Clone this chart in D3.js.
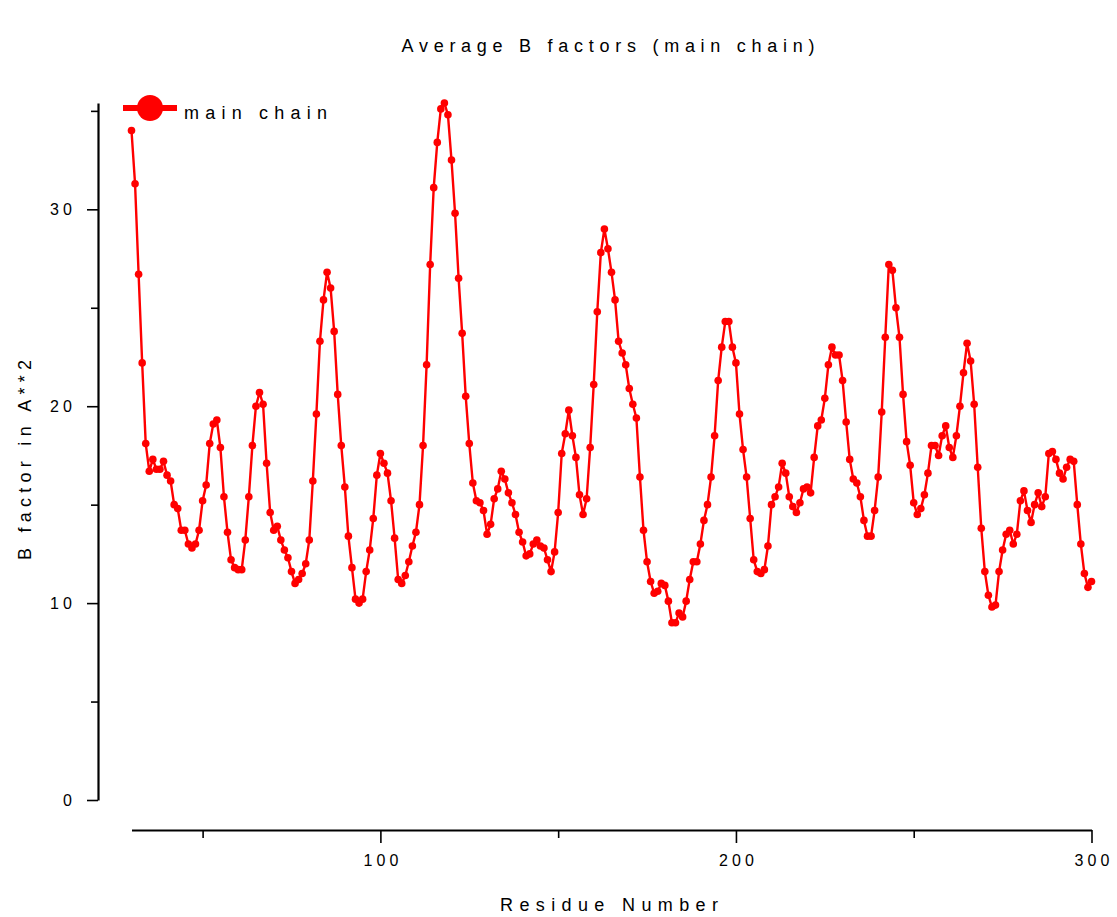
<!DOCTYPE html>
<html>
<head>
<meta charset="utf-8">
<script src="https://cdn.jsdelivr.net/npm/d3@7"></script>
<style>
  html, body { margin: 0; padding: 0; background: #fff; }
  svg text { font-family: "Liberation Sans", Arial, sans-serif; fill: #000; }
</style>
</head>
<body>
<svg id="chart" width="1117" height="917"></svg>
<script>
// Residue numbering of the first value; each following value is the next residue.
const firstResidue = 30;

// Average main-chain B factor per residue (A**2).
const bFactors = [
  34.0, 31.3, 26.7, 22.2, 18.1, 16.7, 17.3, 16.8, 16.8, 17.2,
  16.5, 16.2, 15.0, 14.8, 13.7, 13.7, 13.0, 12.8, 13.0, 13.7,
  15.2, 16.0, 18.1, 19.1, 19.3, 17.9, 15.4, 13.6, 12.2, 11.8,
  11.7, 11.7, 13.2, 15.4, 18.0, 20.0, 20.7, 20.1, 17.1, 14.6,
  13.7, 13.9, 13.2, 12.7, 12.3, 11.6, 11.0, 11.2, 11.5, 12.0,
  13.2, 16.2, 19.6, 23.3, 25.4, 26.8, 26.0, 23.8, 20.6, 18.0,
  15.9, 13.4, 11.8, 10.2, 10.0, 10.2, 11.6, 12.7, 14.3, 16.5,
  17.6, 17.1, 16.6, 15.2, 13.3, 11.2, 11.0, 11.4, 12.1, 12.9,
  13.6, 15.0, 18.0, 22.1, 27.2, 31.1, 33.4, 35.1, 35.4, 34.8,
  32.5, 29.8, 26.5, 23.7, 20.5, 18.1, 16.1, 15.2, 15.1, 14.7,
  13.5, 14.0, 15.3, 15.8, 16.7, 16.3, 15.6, 15.1, 14.5, 13.6,
  13.1, 12.4, 12.5, 13.0, 13.2, 12.9, 12.8, 12.2, 11.6, 12.6,
  14.6, 17.6, 18.6, 19.8, 18.5, 17.4, 15.5, 14.5, 15.3, 17.9,
  21.1, 24.8, 27.8, 29.0, 28.0, 26.8, 25.4, 23.3, 22.7, 22.1,
  20.9, 20.1, 19.4, 16.4, 13.7, 12.1, 11.1, 10.5, 10.6, 11.0,
  10.9, 10.1, 9.0, 9.0, 9.5, 9.3, 10.1, 11.2, 12.1, 12.1,
  13.0, 14.2, 15.0, 16.4, 18.5, 21.3, 23.0, 24.3, 24.3, 23.0,
  22.2, 19.6, 17.8, 16.4, 14.3, 12.2, 11.6, 11.5, 11.7, 12.9,
  15.0, 15.4, 15.9, 17.1, 16.6, 15.4, 14.9, 14.6, 15.1, 15.8,
  15.9, 15.6, 17.4, 19.0, 19.3, 20.4, 22.1, 23.0, 22.6, 22.6,
  21.3, 19.2, 17.3, 16.3, 16.1, 15.4, 14.2, 13.4, 13.4, 14.7,
  16.4, 19.7, 23.5, 27.2, 26.9, 25.0, 23.5, 20.6, 18.2, 17.0,
  15.1, 14.5, 14.8, 15.5, 16.6, 18.0, 18.0, 17.5, 18.5, 19.0,
  17.9, 17.4, 18.5, 20.0, 21.7, 23.2, 22.3, 20.1, 16.9, 13.8,
  11.6, 10.4, 9.8, 9.9, 11.6, 12.7, 13.5, 13.7, 13.0, 13.5,
  15.2, 15.7, 14.7, 14.1, 15.0, 15.6, 14.9, 15.4, 17.6, 17.7,
  17.3, 16.6, 16.3, 16.9, 17.3, 17.2, 15.0, 13.0, 11.5, 10.8,
  11.1
];

// Axis ticks: labelled majors and unlabelled minors.
const xMajorTicks = [100, 200, 300];
const xMinorTicks = [50, 150, 250];
const yMajorTicks = [0, 10, 20, 30];
const yMinorTicks = [5, 15, 25, 35];

const chartTitle = "Average B factors (main chain)";
const xTitle = "Residue Number";
const yTitle = "B factor in A**2";
const seriesName = "main chain";

const points = bFactors.map((b, i) => ({ residue: firstResidue + i, b }));

const svg = d3.select("#chart");
const red = "#ff0000";

// Spaced-out lettering: each label gets a set width per character.
const digitWidth = 13;
function spaced(sel, perChar) {
  sel.each(function () {
    const t = d3.select(this);
    const n = t.text().length;
    t.attr("textLength", Math.max(1, n * perChar - (perChar - 9)))
     .attr("lengthAdjust", "spacing");
  });
}

const x = d3.scaleLinear().domain([30, 300]).range([131.5, 1091.5]);
const y = d3.scaleLinear().domain([0, 35.4]).range([800, 103]);

// Bottom axis, set below the plot area
const xAxisY = 830;
const xAxis = svg.append("g").attr("transform", `translate(0,${xAxisY})`);
xAxis.append("g")
  .call(d3.axisBottom(x).tickValues(xMajorTicks).tickSize(13).tickSizeOuter(0).tickPadding(12).tickFormat(d3.format("d")))
  .call(g => g.select(".domain").attr("stroke-width", 2.2).attr("stroke", "#000"));
xAxis.append("g")
  .call(d3.axisBottom(x).tickValues(xMinorTicks).tickSize(8).tickSizeOuter(0).tickFormat(""))
  .call(g => g.select(".domain").remove());
xAxis.selectAll(".tick line").attr("stroke-width", 1.6).attr("stroke", "#000");
xAxis.selectAll(".tick text")
  .attr("font-size", 16)
  .call(spaced, digitWidth);

// Left axis, set to the left of the first residue
const yAxisX = 98;
const yAxis = svg.append("g").attr("transform", `translate(${yAxisX},0)`);
yAxis.append("g")
  .call(d3.axisLeft(y).tickValues(yMajorTicks).tickSize(11).tickSizeOuter(0).tickPadding(15).tickFormat(d3.format("d")))
  .call(g => g.select(".domain").attr("stroke-width", 2.2).attr("stroke", "#000"));
yAxis.append("g")
  .call(d3.axisLeft(y).tickValues(yMinorTicks).tickSize(7).tickSizeOuter(0).tickFormat(""))
  .call(g => g.select(".domain").remove());
yAxis.selectAll(".tick line").attr("stroke-width", 1.6).attr("stroke", "#000");
yAxis.selectAll(".tick text")
  .attr("font-size", 16)
  .call(spaced, digitWidth);

// Titles
svg.append("text")
  .attr("x", 608).attr("y", 52)
  .attr("text-anchor", "middle")
  .attr("font-size", 18)
  .attr("textLength", 413).attr("lengthAdjust", "spacing")
  .text(chartTitle);

svg.append("text")
  .attr("x", 609).attr("y", 911)
  .attr("text-anchor", "middle")
  .attr("font-size", 18)
  .attr("textLength", 218).attr("lengthAdjust", "spacing")
  .text(xTitle);

svg.append("text")
  .attr("transform", "translate(31,460) rotate(-90)")
  .attr("text-anchor", "middle")
  .attr("font-size", 18)
  .attr("textLength", 200).attr("lengthAdjust", "spacing")
  .text(yTitle);

// Series: line through residues with a dot on each
const line = d3.line().x(d => x(d.residue)).y(d => y(d.b));

svg.append("path")
  .datum(points)
  .attr("fill", "none")
  .attr("stroke", red)
  .attr("stroke-width", 2.4)
  .attr("stroke-linejoin", "round")
  .attr("d", line);

svg.append("g")
  .selectAll("circle")
  .data(points)
  .join("circle")
  .attr("cx", d => x(d.residue))
  .attr("cy", d => y(d.b))
  .attr("r", 3.8)
  .attr("fill", red);

// Legend
const legend = svg.append("g").attr("transform", "translate(123,108)");
legend.append("line")
  .attr("x1", 0).attr("x2", 54).attr("y1", 0).attr("y2", 0)
  .attr("stroke", red).attr("stroke-width", 6);
legend.append("circle")
  .attr("cx", 27).attr("cy", 0).attr("r", 13).attr("fill", red);
legend.append("text")
  .attr("x", 61).attr("y", 11)
  .attr("font-size", 18)
  .attr("textLength", 143).attr("lengthAdjust", "spacing")
  .text(seriesName);
</script>
</body>
</html>
